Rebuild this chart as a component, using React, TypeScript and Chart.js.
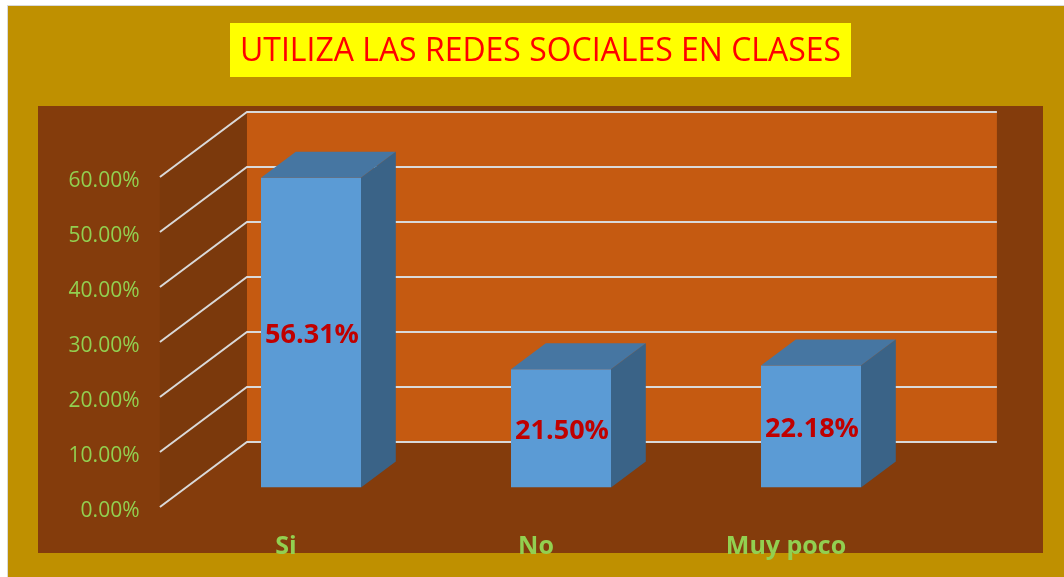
import React, { useEffect, useRef } from 'react';
import { Chart, registerables } from 'chart.js';

Chart.register(...registerables);

// ---- data ----
const categories: string[] = ['Si', 'No', 'Muy poco'];
const values: number[] = [56.31, 21.5, 22.18];
const yMin = 0;
const yMax = 60;
const yStep = 10;
const chartTitle = 'UTILIZA LAS REDES SOCIALES EN CLASES';

// ---- geometry / style ----
const W = 1057;
const H = 572;
const DEPTH = { x: 87, y: -65 }; // full floor depth vector
const BAR_PLANE = 0.3; // depth fraction where bar front faces sit (chart area plane)
const BAR_DEPTH = 0.4; // depth fraction of each bar

const scenePlugin = {
  id: 'scene3d',
  beforeDraw(chart: any) {
    const ctx: CanvasRenderingContext2D = chart.ctx;
    const ca = chart.chartArea;
    const ys = chart.scales.y;
    ctx.save();
    // outer frame
    ctx.fillStyle = '#D9D9D9';
    ctx.fillRect(0, 0, W, H);
    ctx.fillStyle = '#BF9000';
    ctx.fillRect(1, 1, W - 1, H - 1);
    // plot area
    ctx.fillStyle = '#843C0C';
    ctx.fillRect(31, 101, 1005, 447);
    // title box
    ctx.fillStyle = '#FFFF00';
    ctx.fillRect(223, 18, 621, 54);
    ctx.fillStyle = '#FF0000';
    ctx.font = '33px "Open Sans"';
    ctx.textAlign = 'center';
    ctx.textBaseline = 'middle';
    ctx.fillText(chartTitle, 533.5, 46.5, 601);

    const fx = -BAR_PLANE * DEPTH.x;
    const fy = -BAR_PLANE * DEPTH.y;
    const bx = (1 - BAR_PLANE) * DEPTH.x;
    const by = (1 - BAR_PLANE) * DEPTH.y;
    const top = ys.getPixelForValue(yMax);
    const bot = ys.getPixelForValue(yMin);

    // back wall
    ctx.fillStyle = '#C55A11';
    ctx.fillRect(ca.left + bx, top + by, ca.right - ca.left, bot - top);
    // side wall
    ctx.fillStyle = '#7B390C';
    ctx.beginPath();
    ctx.moveTo(ca.left + fx, top + fy);
    ctx.lineTo(ca.left + bx, top + by);
    ctx.lineTo(ca.left + bx, bot + by);
    ctx.lineTo(ca.left + fx, bot + fy);
    ctx.closePath();
    ctx.fill();

    // gridlines
    ctx.strokeStyle = '#D9D9D9';
    ctx.lineWidth = 2;
    for (let v = yMin; v <= yMax; v += yStep) {
      const y = ys.getPixelForValue(v);
      ctx.beginPath();
      ctx.moveTo(ca.left + fx, y + fy);
      ctx.lineTo(ca.left + bx, y + by);
      ctx.lineTo(ca.right + bx, y + by);
      ctx.stroke();
    }
    ctx.restore();
  },
  afterDatasetsDraw(chart: any) {
    const ctx: CanvasRenderingContext2D = chart.ctx;
    const meta = chart.getDatasetMeta(0);
    const dx = BAR_DEPTH * DEPTH.x;
    const dy = BAR_DEPTH * DEPTH.y;
    ctx.save();
    meta.data.forEach((bar: any, i: number) => {
      const p = bar.getProps(['x', 'y', 'base', 'width'], true);
      const l = p.x - p.width / 2;
      const r = p.x + p.width / 2;
      const t = p.y;
      const b = p.base;
      // top face
      ctx.fillStyle = '#4676A2';
      ctx.beginPath();
      ctx.moveTo(l, t);
      ctx.lineTo(l + dx, t + dy);
      ctx.lineTo(r + dx, t + dy);
      ctx.lineTo(r, t);
      ctx.closePath();
      ctx.fill();
      // side face
      ctx.fillStyle = '#3A6387';
      ctx.beginPath();
      ctx.moveTo(r, t);
      ctx.lineTo(r + dx, t + dy);
      ctx.lineTo(r + dx, b + dy);
      ctx.lineTo(r, b);
      ctx.closePath();
      ctx.fill();
      // value label
      ctx.fillStyle = '#C00000';
      ctx.font = 'bold 27px "Open Sans"';
      ctx.textAlign = 'center';
      ctx.textBaseline = 'middle';
      ctx.fillText(values[i].toFixed(2) + '%', p.x + 1, (t + b) / 2 + 3);
    });
    ctx.restore();
  },
};

export default function App() {
  const ref = useRef<HTMLCanvasElement | null>(null);
  useEffect(() => {
    if (!ref.current) return;
    const chart = new Chart(ref.current, {
      type: 'bar',
      data: {
        labels: categories,
        datasets: [
          {
            data: values,
            backgroundColor: '#5B9BD5',
            borderWidth: 0,
            barPercentage: 0.4,
            categoryPercentage: 1,
          },
        ],
      },
      options: {
        animation: false,
        responsive: false,
        maintainAspectRatio: false,
        layout: { padding: { left: 29, right: 128, top: 152.5, bottom: 4.5 } },
        plugins: {
          legend: { display: false },
          title: { display: false },
          tooltip: { enabled: false },
        },
        scales: {
          x: {
            grid: { display: false, drawTicks: false },
            border: { display: false },
            ticks: {
              color: '#92D050',
              font: { family: 'Open Sans', size: 25, weight: 'bold' },
              padding: 44.5,
              labelOffset: -25,
              maxRotation: 0,
              autoSkip: false,
            },
            afterFit: (s: any) => {
              s.height = 85;
            },
          },
          y: {
            min: yMin,
            max: yMax,
            grid: { display: false, drawTicks: false },
            border: { display: false },
            ticks: {
              stepSize: yStep,
              color: '#92D050',
              font: { family: 'Open Sans', size: 21 },
              padding: 46.5,
              labelOffset: 23.5,
              callback: (v: any) => Number(v).toFixed(2) + '%',
            },
            afterFit: (s: any) => {
              s.width = 150;
            },
          },
        },
      },
      plugins: [scenePlugin],
    } as any);
    return () => chart.destroy();
  }, []);
  return (
    <div style={{ position: 'fixed', left: 7, top: 5, width: W, height: H }}>
      <canvas ref={ref} width={W} height={H} style={{ display: 'block', width: W, height: H }} />
    </div>
  );
}
